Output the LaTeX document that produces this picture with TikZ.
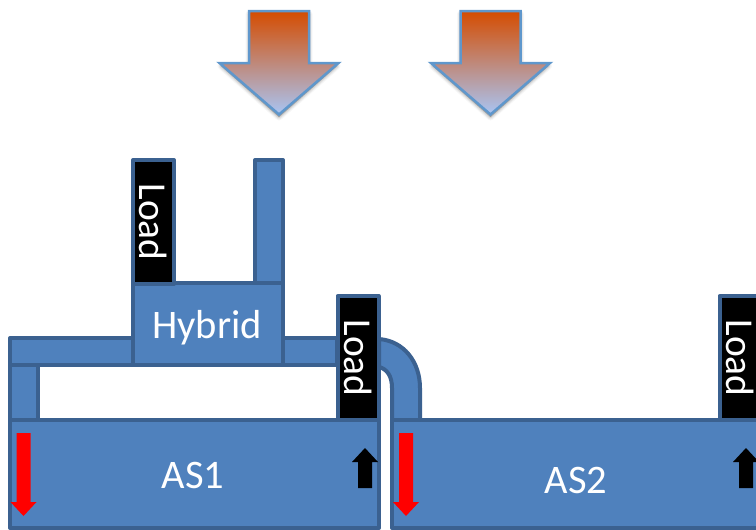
\documentclass[tikz,border=0pt]{standalone}
\usepackage{fontspec}
\setmainfont{Carlito}
\definecolor{pipefill}{HTML}{4F81BD}
\definecolor{pipeline}{HTML}{3B6190}
\definecolor{sunline}{HTML}{5F97CC}
\definecolor{suntop}{HTML}{D54C00}
\definecolor{sunbottom}{HTML}{A9C5F4}
\tikzset{
  pipe/.style={draw=pipeline,fill=pipefill,line width=4pt,line join=round},
  blockbox/.style={pipe,anchor=north west,outer sep=0pt,inner sep=0pt},
  label/.style={text=white,font=\fontsize{40.5}{40.5}\selectfont,inner sep=0pt},
  loadbox/.style={pipe,fill=black,text=white,font=\fontsize{39.5}{39.5}\selectfont,
    rotate=-90,inner sep=0pt,outer sep=0pt,minimum width=124pt,minimum height=41pt}
}
\begin{document}
\begin{tikzpicture}[x=1pt,y=-1pt]
  \useasboundingbox (0,0) rectangle (756,530);
  % incoming arrows
  \foreach \X in {279,490.5}{
    \foreach \d/\o in {7/0.03,5/0.05,3/0.07,1/0.09}{
      \fill[black,opacity=\o,line width=\d pt,draw=black,line join=round,draw opacity=\o]
        ({\X-30},14) -- ({\X+30},14) -- ({\X+30},66) -- ({\X+58},66)
        -- (\X,117) -- ({\X-58},66) -- ({\X-30},66) -- cycle;
    }
    \draw[draw=sunline,line width=2.5pt,line join=miter,top color=suntop,bottom color=sunbottom]
      ({\X-30},11) -- ({\X+30},11) -- ({\X+30},63) -- ({\X+59.5},63)
      -- (\X,114.5) -- ({\X-59.5},63) -- ({\X-30},63) -- cycle;
  }
  % pipes
  \draw[pipe] (10,338) rectangle (337,365);
  \draw[pipe] (10,365) rectangle (38,420);
  \draw[pipe] (255,160) rectangle (283,283);
  \draw[pipe] (379,339) .. controls (404,341) and (420,362) .. (420,388) -- (420,420)
    -- (392,420) -- (392,388) .. controls (392,376) and (387,369) .. (379,367) -- cycle;
  % boxes
  \node[blockbox,minimum width=150pt,minimum height=82pt] (hybrid) at (133,283) {};
  \node[blockbox,minimum width=369pt,minimum height=108pt] (as1) at (10,420) {};
  \node[blockbox,minimum width=400pt,minimum height=108pt] (as2) at (392,420) {};
  \node[label] at (207,328) {Hybrid};
  \node[label] at (193,475) {AS1};
  \node[label] at (576,480) {AS2};
  \node[loadbox] (load1) at (153.5,222) {Load};
  \node[loadbox] (load2) at (358,358) {Load};
  \node[loadbox] (load3) at (740,358) {Load};
  % currents
  \foreach \X in {23.5,406}{
    \fill[red] ({\X-7},433) -- ({\X+7},433) -- ({\X+7},502) -- ({\X+13},502)
      -- (\X,516) -- ({\X-13},502) -- ({\X-7},502) -- cycle;
  }
  \foreach \X in {365,746}{
    \fill[black] ({\X-7},488) -- ({\X+7},488) -- ({\X+7},462) -- ({\X+13},462)
      -- (\X,448) -- ({\X-13},462) -- ({\X-7},462) -- cycle;
  }
\end{tikzpicture}
\end{document}
